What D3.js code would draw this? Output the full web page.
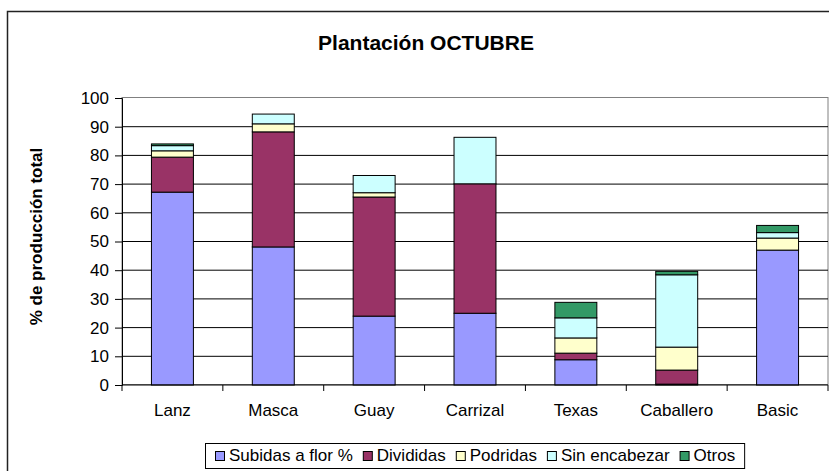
<!DOCTYPE html>
<html>
<head>
<meta charset="utf-8">
<script src="https://cdn.jsdelivr.net/npm/d3@7"></script>
<style>
  body { margin: 0; background: #fff; }
  text { font-family: Arial, "Liberation Sans", sans-serif; fill: #000; }
</style>
</head>
<body>
<svg id="chart" width="829" height="471"></svg>
<script>
var svg = d3.select("#chart");

var width = +svg.attr("width");
var height = +svg.attr("height");

// data
var categories = ["Lanz", "Masca", "Guay", "Carrizal", "Texas", "Caballero", "Basic"];
var seriesNames = ["Subidas a flor %", "Divididas", "Podridas", "Sin encabezar", "Otros"];
var subidas = [67.2, 48.1, 24.0, 25.0, 8.8, 0.3, 47.0];
var divididas = [12.2, 40.1, 41.5, 45.1, 2.3, 4.9, 0];
var podridas = [2.2, 2.8, 1.5, 0, 5.3, 8.0, 4.2];
var sinEncabezar = [1.8, 3.4, 6.0, 16.2, 7.0, 25.2, 1.9];
var otros = [0.6, 0, 0, 0, 5.4, 1.2, 2.5];
var yTicks = [0, 10, 20, 30, 40, 50, 60, 70, 80, 90, 100];

var colors = ["#9999ff", "#993366", "#ffffcc", "#ccffff", "#339966"];

// plot area
var plotLeft = 122, plotRight = 828, plotTop = 98, plotBottom = 385;
var fontSize = "17px";

var rows = categories.map(function (c, i) {
  return {
    cat: c,
    "Subidas a flor %": subidas[i],
    "Divididas": divididas[i],
    "Podridas": podridas[i],
    "Sin encabezar": sinEncabezar[i],
    "Otros": otros[i]
  };
});

var xScale = d3.scaleBand().domain(categories).range([plotLeft, plotRight]).padding(0);
var yScale = d3.scaleLinear().domain([0, 100]).range([plotBottom, plotTop]);

// outer chart border (runs off the right and bottom of the picture)
svg.append("rect")
  .attr("x", 7.5).attr("y", 11.5)
  .attr("width", 900).attr("height", 500)
  .attr("fill", "#fff")
  .attr("stroke", "#222")
  .attr("stroke-width", 1.5);

// title
svg.append("text")
  .attr("x", 426).attr("y", 50)
  .attr("text-anchor", "middle")
  .style("font-size", "21px")
  .style("font-weight", "bold")
  .text("Plantación OCTUBRE");

// plot area border (top + right, grey)
svg.append("rect")
  .attr("x", plotLeft).attr("y", plotTop - 0.5)
  .attr("width", plotRight - plotLeft).attr("height", plotBottom - plotTop)
  .attr("fill", "none")
  .attr("stroke", "#808080")
  .attr("stroke-width", 1);

// gridlines
svg.append("g")
  .selectAll("line")
  .data(yTicks.filter(function (t) { return t > 0 && t < 100; }))
  .enter().append("line")
  .attr("x1", plotLeft).attr("x2", plotRight)
  .attr("y1", function (d) { return yScale(d); })
  .attr("y2", function (d) { return yScale(d); })
  .attr("stroke", "#000")
  .attr("stroke-width", 1);

// stacked bars
var stack = d3.stack().keys(seriesNames);
var stacked = stack(rows);
var barW = xScale.bandwidth() * 0.416;

stacked.forEach(function (layer, li) {
  svg.append("g")
    .selectAll("rect")
    .data(layer.filter(function (d) { return d[1] - d[0] > 0; }))
    .enter().append("rect")
    .attr("x", function (d) { return xScale(d.data.cat) + (xScale.bandwidth() - barW) / 2; })
    .attr("y", function (d) { return yScale(d[1]); })
    .attr("width", barW)
    .attr("height", function (d) { return yScale(d[0]) - yScale(d[1]); })
    .attr("fill", colors[li])
    .attr("stroke", "#000")
    .attr("stroke-width", 1);
});

// y axis
var leftAxis = d3.axisLeft(yScale).tickValues(yTicks).tickSize(7).tickPadding(6);
var yAxisG = svg.append("g")
  .attr("transform", "translate(" + plotLeft + ",0)")
  .call(leftAxis);
yAxisG.select(".domain").attr("stroke", "#000");
yAxisG.selectAll("text").style("font-size", fontSize).style("font-family", "Arial, 'Liberation Sans', sans-serif");

// x axis line
svg.append("line")
  .attr("x1", plotLeft).attr("x2", plotRight)
  .attr("y1", plotBottom).attr("y2", plotBottom)
  .attr("stroke", "#000");

// x ticks at category boundaries
svg.append("g")
  .selectAll("line")
  .data(categories.concat(["end"]))
  .enter().append("line")
  .attr("x1", function (d) { return d === "end" ? plotRight : xScale(d); })
  .attr("x2", function (d) { return d === "end" ? plotRight : xScale(d); })
  .attr("y1", plotBottom).attr("y2", plotBottom + 6)
  .attr("stroke", "#000");

// category labels
svg.append("g")
  .selectAll("text")
  .data(categories)
  .enter().append("text")
  .attr("x", function (d) { return xScale(d) + xScale.bandwidth() / 2; })
  .attr("y", 416)
  .attr("text-anchor", "middle")
  .style("font-size", fontSize)
  .text(function (d) { return d; });

// y axis label
svg.append("text")
  .attr("transform", "translate(42," + ((plotTop + plotBottom) / 2 - 5) + ")rotate(-90)")
  .attr("text-anchor", "middle")
  .style("font-size", fontSize)
  .style("font-weight", "bold")
  .text("% de producción total");

// legend
var legend = svg.append("g");
var legendBox = legend.append("rect")
  .attr("fill", "#fff")
  .attr("stroke", "#000")
  .attr("stroke-width", 1);

var cursor = 0;
seriesNames.forEach(function (name, i) {
  var g = legend.append("g");
  g.append("rect")
    .attr("x", cursor + 0.5).attr("y", -9.5)
    .attr("width", 9).attr("height", 9)
    .attr("fill", colors[i])
    .attr("stroke", "#000");
  var t = g.append("text")
    .attr("x", cursor + 14).attr("y", 0)
    .style("font-size", fontSize)
    .text(name);
  cursor += 14 + t.node().getComputedTextLength() + 10;
});
var legendW = cursor - 10;
var legendX = Math.round((plotLeft + plotRight) / 2 - legendW / 2);
legend.selectAll("g").attr("transform", "translate(" + legendX + ",461)");
legendBox
  .attr("x", legendX - 9.5).attr("y", 443.5)
  .attr("width", legendW + 19).attr("height", 25);
</script>
</body>
</html>
